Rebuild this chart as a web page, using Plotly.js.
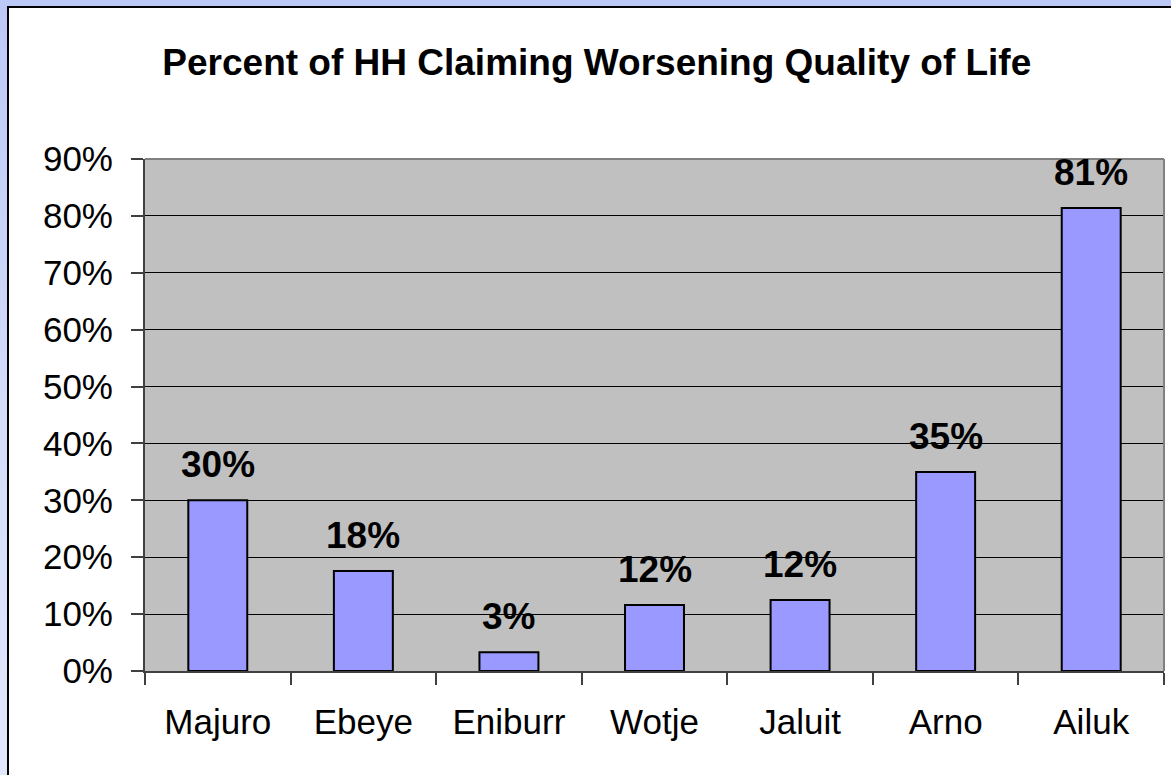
<!DOCTYPE html>
<html>
<head>
<meta charset="utf-8">
<script src="https://cdn.plot.ly/plotly-3.0.1.min.js"></script>
<style>
  html, body { margin: 0; padding: 0; width: 1171px; height: 775px; overflow: hidden; }
  body { background: linear-gradient(to bottom, #bcc9f8 0%, #d6def9 60%, #e2e8fc 100%); position: relative; }
  #frame { position: absolute; left: 7px; top: 6px; width: 1164px; height: 769px;
           background: #ffffff; border-left: 2px solid #000; border-top: 2px solid #000; }
  #chart { width: 1164px; height: 769px; }
</style>
</head>
<body>
<div id="frame"><div id="chart"></div></div>
<script>
const categories = ["Majuro", "Ebeye", "Eniburr", "Wotje", "Jaluit", "Arno", "Ailuk"];
const values = [0.30, 0.176, 0.033, 0.116, 0.125, 0.35, 0.814];
const valueLabels = ["30%", "18%", "3%", "12%", "12%", "35%", "81%"];
const titleText = "Percent of HH Claiming Worsening Quality of Life";

const FONT = "Liberation Sans, Arial, Helvetica, sans-serif";

const trace = {
  type: "bar",
  x: categories,
  y: values,
  marker: { color: "#9999ff", line: { color: "#000000", width: 2 } },
  hoverinfo: "none"
};

const annotations = categories.map((c, i) => ({
  x: c, y: values[i], xref: "x", yref: "y",
  text: "<b>" + valueLabels[i] + "</b>",
  showarrow: false, yanchor: "bottom", yshift: 13,
  font: { family: FONT, size: 37, color: "#000" }
}));

const layout = {
  width: 1164, height: 769,
  margin: { l: 136, r: 9, t: 151, b: 106 },
  paper_bgcolor: "#ffffff",
  plot_bgcolor: "#c0c0c0",
  showlegend: false,
  bargap: 0.595,
  title: {
    text: "<b>" + titleText + "</b>",
    font: { family: FONT, size: 37, color: "#000" },
    x: 0.505, xanchor: "center", y: 0.93, yanchor: "middle", xref: "container"
  },
  xaxis: {
    type: "category",
    tickson: "boundaries",
    ticks: "outside", ticklen: 12, tickwidth: 2, tickcolor: "#404040",
    showgrid: false,
    showline: true, linecolor: "#404040", linewidth: 2,
    tickfont: { family: FONT, size: 35, color: "#000" },
    ticklabelstandoff: 19,
    fixedrange: true
  },
  yaxis: {
    range: [0, 0.9],
    dtick: 0.1, tick0: 0,
    tickformat: ".0%",
    ticks: "outside", ticklen: 12, tickwidth: 2, tickcolor: "#404040",
    showgrid: true, gridcolor: "#000000", gridwidth: 1,
    zeroline: false,
    showline: true, linecolor: "#404040", linewidth: 2,
    tickfont: { family: FONT, size: 35, color: "#000" },
    ticklabelstandoff: 11,
    fixedrange: true
  },
  shapes: [
    { type: "line", xref: "paper", yref: "paper", x0: 0, x1: 1, y0: 1, y1: 1, line: { color: "#808080", width: 2 } },
    { type: "line", xref: "paper", yref: "paper", x0: 1, x1: 1, y0: 0, y1: 1, line: { color: "#808080", width: 2 } }
  ],
  annotations: annotations
};

Plotly.newPlot("chart", [trace], layout, { displayModeBar: false, staticPlot: true });
</script>
</body>
</html>
